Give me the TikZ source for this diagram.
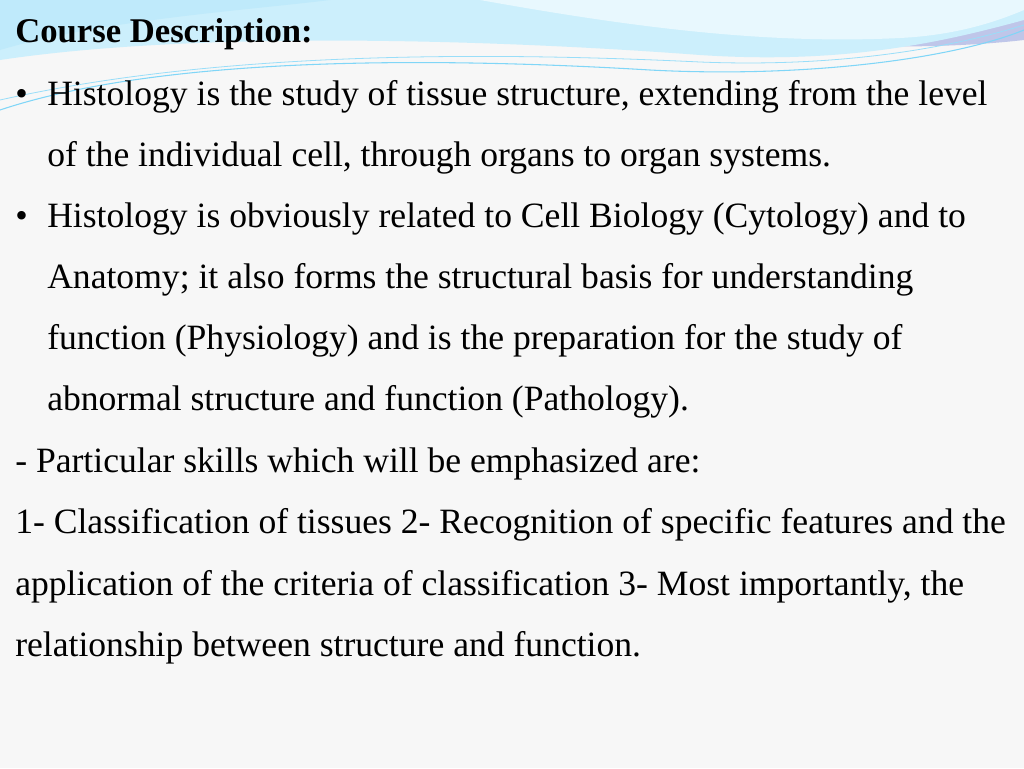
\documentclass[tikz,border=0pt]{standalone}
\usepackage{fontspec}
\setmainfont{Liberation Serif}
\begin{document}
\begin{tikzpicture}[x=0.75pt,y=-0.75pt,
  txt/.style={anchor=base west,inner sep=0pt,font=\fontsize{26.7}{30}\selectfont}]
\useasboundingbox (0,0) rectangle (1024,768);
\fill[gray!6] (0,0) rectangle (1024,768);
% top waves
\fill[cyan!35!blue!25] (300,0) .. controls (600,30) and (850,60) .. (1024,40) -- (1024,0) -- cycle;
\fill[cyan!20] (0,0) -- (0,60) .. controls (200,30) and (500,40) .. (700,55) .. controls (850,65) and (950,40) .. (1024,20) -- (1024,0) -- cycle;
\fill[white!70!cyan!30] (480,0) .. controls (620,25) and (760,45) .. (900,38) .. controls (960,35) and (1000,20) .. (1024,10) -- (1024,0) -- cycle;
\draw[cyan!50,line width=0.8pt] (0,110) .. controls (150,60) and (400,55) .. (650,70) .. controls (800,78) and (950,60) .. (1024,30);
\draw[cyan!40,line width=0.6pt] (0,100) .. controls (200,55) and (450,50) .. (700,62) .. controls (850,68) and (960,45) .. (1024,25);
\fill[cyan!25] (0,0) -- (0,50) .. controls (100,20) and (250,10) .. (330,0) -- cycle;
\node[txt,font=\fontsize{26}{30}\selectfont\bfseries] (t) at (15,42) {Course Description:};
\node[txt] (b1) at (15,105) {•};
\node[txt] (l1) at (47,105) {Histology is the study of tissue structure, extending from the level};
\node[txt] (l2) at (47,166) {of the individual cell, through organs to organ systems.};
\node[txt] (b2) at (15,227) {•};
\node[txt] (l3) at (47,227) {Histology is obviously related to Cell Biology (Cytology) and to};
\node[txt] (l4) at (47,288) {Anatomy; it also forms the structural basis for understanding};
\node[txt] (l5) at (47,349) {function (Physiology) and is the preparation for the study of};
\node[txt] (l6) at (47,410) {abnormal structure and function (Pathology).};
\node[txt] (l7) at (15,472) {- Particular skills which will be emphasized are:};
\node[txt] (l8) at (15,533) {1- Classification of tissues 2- Recognition of specific features and the};
\node[txt] (l9) at (15,595) {application of the criteria of classification 3- Most importantly, the};
\node[txt] (l10) at (15,656) {relationship between structure and function.};
\end{tikzpicture}
\end{document}
